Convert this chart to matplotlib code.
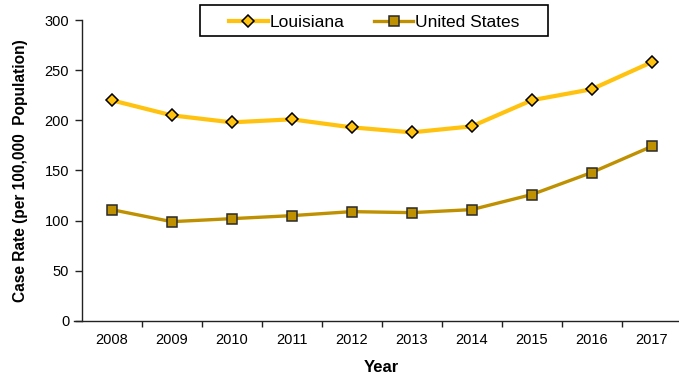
import numpy as np
import matplotlib.pyplot as plt
from matplotlib.patches import Rectangle

plt.rcParams['font.family'] = ['Liberation Sans', 'DejaVu Sans']

years = ['2008', '2009', '2010', '2011', '2012', '2013', '2014', '2015', '2016', '2017']
louisiana = [220, 205, 198, 201, 193, 188, 194, 220, 231, 258]
united_states = [111, 99, 102, 105, 109, 108, 111, 126, 148, 174]

la_color = '#FFC20E'
us_color = '#BF9000'

fig = plt.figure(figsize=(6.79, 3.76), dpi=100)
ax = fig.add_axes([0.1203, 0.1463, 0.8837, 0.8005])

x = np.arange(len(years))
ax.plot(x, louisiana, color=la_color, lw=3, marker='D', markersize=6.3,
        markerfacecolor=la_color, markeredgecolor='black', markeredgewidth=1.1,
        label='Louisiana', zorder=3)
ax.plot(x, united_states, color=us_color, lw=2.4, marker='s', markersize=7.6,
        markerfacecolor=us_color, markeredgecolor='#2a2a2a', markeredgewidth=1.1,
        label='United States', zorder=3)

ax.set_xlim(-0.5, len(years) - 0.5)
ax.set_ylim(0, 300)
ax.set_yticks(np.arange(0, 301, 50))
ax.set_xticks(x)
ax.set_xticklabels(years)
# tick marks sit between the categories, labels sit under them
ax.set_xticks(np.arange(0.5, len(years) - 1, 1), minor=True)
ax.tick_params(axis='x', which='major', length=0, pad=9, labelsize=10.5)
ax.tick_params(axis='x', which='minor', length=4, width=1, color='#222222')
ax.tick_params(axis='y', length=5, width=1, color='#222222', labelsize=10.5, pad=4)

for side in ['top', 'right']:
    ax.spines[side].set_visible(False)
for side in ['left', 'bottom']:
    ax.spines[side].set_color('#222222')
    ax.spines[side].set_linewidth(1)
ax.spines['bottom'].set_bounds(-0.62, len(years) - 0.5)

ax.set_ylabel('Case Rate (per 100,000  Population)', fontsize=11.2, fontweight='bold', labelpad=12)
ax.set_xlabel('Year', fontsize=12, fontweight='bold', labelpad=9)

leg = fig.legend(loc='center', bbox_to_anchor=(0.551, 0.94), ncol=2, frameon=False,
                 fontsize=12.5, handlelength=2.25, handletextpad=0.1, columnspacing=1.7)
fig.patches.append(Rectangle((0.2946, 0.904), 0.5125, 0.0824, transform=fig.transFigure,
                             fill=False, edgecolor='black', lw=1.2))

fig.savefig('out.png', dpi=100)
